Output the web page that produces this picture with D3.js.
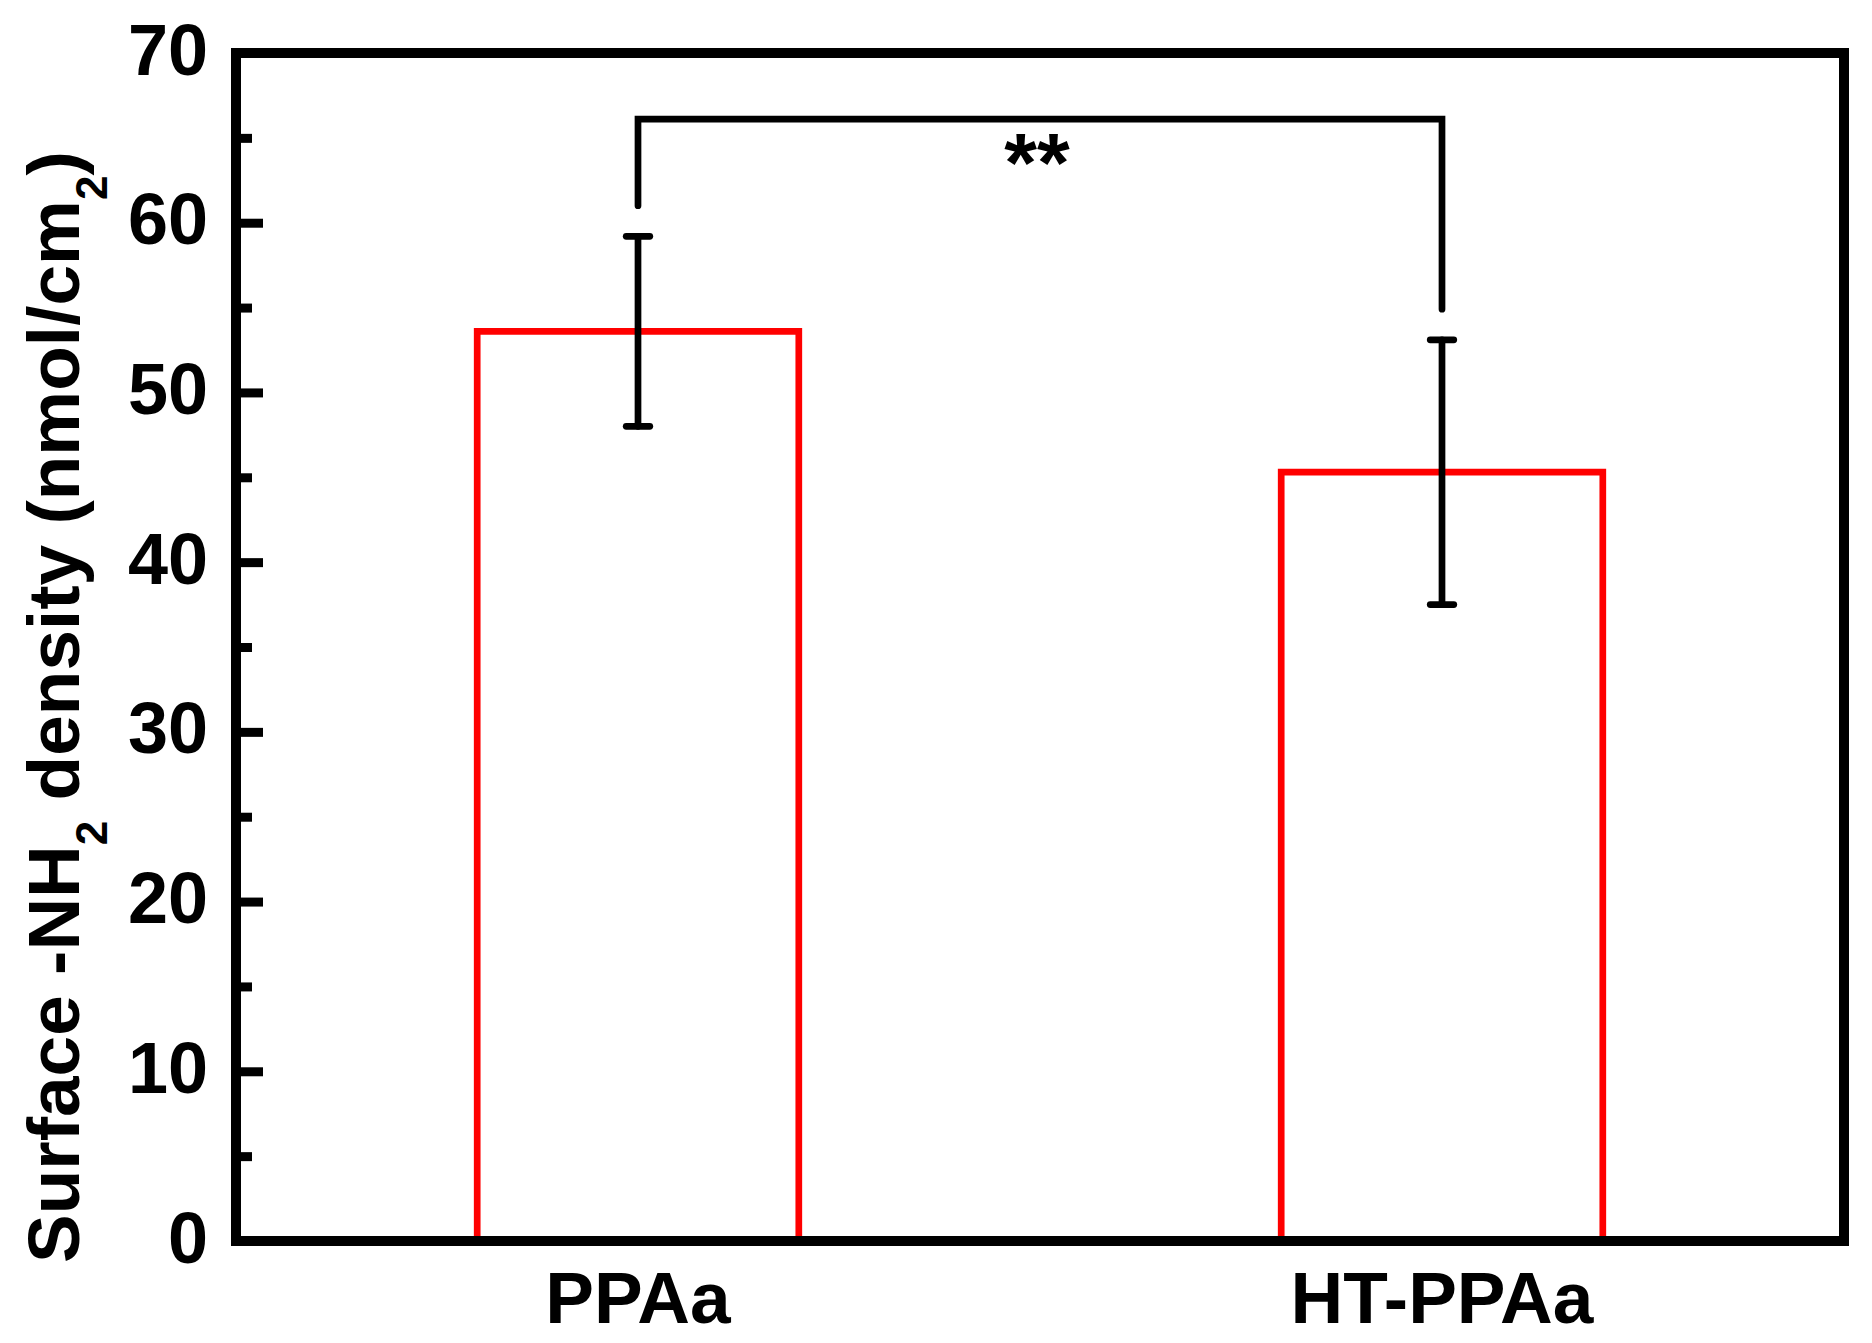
<!DOCTYPE html>
<html><head><meta charset="utf-8">
<script src="https://cdn.jsdelivr.net/npm/d3@7"></script>
<style>
body{margin:0;background:#fff}
text{font-family:"Liberation Sans",Arial,Helvetica,sans-serif;font-weight:bold;fill:#000}
</style>
</head><body>
<svg id="chart" width="1872" height="1343"></svg>
<script>
// ---- data ----
const categories = ["PPAa", "HT-PPAa"];
const values = [53.6, 45.3];
const errors = [5.6, 7.8];
const yTicks = [0, 10, 20, 30, 40, 50, 60, 70];
const yMinorTicks = [5, 15, 25, 35, 45, 55, 65];
const yDomain = [0, 70];
const sigFrom = "PPAa", sigTo = "HT-PPAa";
const sigTop = 66.1, sigLeftEnd = 61.0, sigRightEnd = 54.9;
const sigLabel = "**";

// ---- layout ----
const L = 236, R = 1844, T = 53, B = 1241;
const svg = d3.select("#chart");
svg.append("rect").attr("width",1872).attr("height",1343).attr("fill","#fff");

const x = d3.scaleBand().domain(categories).range([L, R]).paddingInner(0.6).paddingOuter(0.3);
const y = d3.scaleLinear().domain(yDomain).range([B, T]);

// bars (open, no bottom edge)
svg.append("g").selectAll("path").data(categories).join("path")
  .attr("d", (c,i) => `M${x(c)},${y(0)}V${y(values[i])}H${x(c)+x.bandwidth()}V${y(0)}`)
  .attr("fill","none").attr("stroke","#ff0000").attr("stroke-width",6.7);

// error bars
const eg = svg.append("g").attr("stroke","#000").attr("stroke-width",6.7).attr("stroke-linecap","round").attr("fill","none");
categories.forEach((c,i) => {
  const cx = x(c) + x.bandwidth()/2;
  eg.append("line").attr("x1",cx).attr("x2",cx).attr("y1",y(values[i]+errors[i])).attr("y2",y(values[i]-errors[i]));
  [values[i]+errors[i], values[i]-errors[i]].forEach(v => {
    eg.append("line").attr("x1",cx-11.8).attr("x2",cx+11.8).attr("y1",y(v)).attr("y2",y(v));
  });
});

// significance bracket
const bx1 = x(sigFrom) + x.bandwidth()/2, bx2 = x(sigTo) + x.bandwidth()/2;
svg.append("path")
  .attr("d", `M${bx1},${y(sigLeftEnd)}V${y(sigTop)}H${bx2}V${y(sigRightEnd)}`)
  .attr("fill","none").attr("stroke","#000").attr("stroke-width",6.7)
  .attr("stroke-linecap","round").attr("stroke-linejoin","miter");
svg.append("text").attr("x",(bx1+bx2)/2 - 3).attr("y",192).attr("text-anchor","middle")
  .style("font-size","84px").text(sigLabel);

// y axis major ticks
const yAxis = d3.axisLeft(y).tickValues(yTicks).tickSize(-27).tickPadding(28).tickFormat(d3.format("d"));
const ga = svg.append("g").attr("transform",`translate(${L},0)`).call(yAxis);
ga.select(".domain").remove();
ga.selectAll(".tick line").attr("stroke","#000").attr("stroke-width",9);
ga.selectAll(".tick text").attr("dy",null).attr("y",21).style("font-size","72px").attr("font-family",null);

// minor ticks
const yMinor = d3.axisLeft(y).tickValues(yMinorTicks).tickSize(-16).tickFormat("");
const gm = svg.append("g").attr("transform",`translate(${L},0)`).call(yMinor);
gm.select(".domain").remove();
gm.selectAll(".tick line").attr("stroke","#000").attr("stroke-width",9);

// x axis labels
const xAxis = d3.axisBottom(x).tickSize(0).tickPadding(0);
const gx = svg.append("g").attr("transform",`translate(0,${B})`).call(xAxis);
gx.select(".domain").remove();
gx.selectAll(".tick text").attr("dy",null).attr("y",82).style("font-size","73px").attr("font-family",null);

// frame
svg.append("rect").attr("x",L).attr("y",T).attr("width",R-L).attr("height",B-T)
  .attr("fill","none").attr("stroke","#000").attr("stroke-width",10);

// y title
const title = svg.append("text").attr("transform",`translate(79,1263) rotate(-90)`)
  .attr("text-anchor","start").style("font-size","73px");
title.append("tspan").text("Surface -NH");
title.append("tspan").attr("dy",28).style("font-size","44px").text("2");
title.append("tspan").attr("dy",-28).text(" density (nmol/cm");
title.append("tspan").attr("dy",28).style("font-size","44px").text("2");
title.append("tspan").attr("dy",-28).text(")");
</script>
</body></html>
